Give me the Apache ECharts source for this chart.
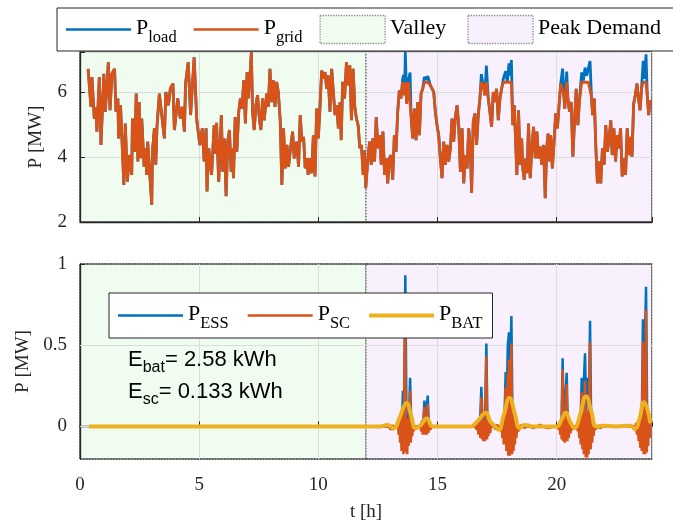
<!DOCTYPE html>
<html>
<head>
<meta charset="utf-8">
<script src="https://cdn.jsdelivr.net/npm/echarts@6/dist/echarts.min.js"></script>
<style>
  html, body { margin: 0; padding: 0; background: #fff; }
  #main { width: 673px; height: 529px; }
</style>
</head>
<body>
<div id="main"></div>
<script>
// time [h] of the load samples (top plot)
var loadT = [
  0.34,0.46,0.50,0.60,0.67,0.71,0.81,0.88,1.00,1.06,
  1.19,1.26,1.34,1.45,1.51,1.59,1.62,1.70,1.84,1.90,
  1.99,2.06,2.17,2.20,2.29,2.36,2.43,2.48,2.55,2.59,
  2.69,2.77,2.80,2.84,3.01,3.04,3.12,3.18,3.23,3.33,
  3.43,3.54,3.60,3.71,3.79,3.90,3.96,4.10,4.21,4.29,
  4.38,4.43,4.54,4.64,4.79,4.90,5.03,5.13,5.21,5.29,
  5.33,5.40,5.52,5.63,5.68,5.73,5.82,5.93,5.99,6.06,
  6.13,6.20,6.27,6.34,6.38,6.44,6.51,6.58,6.66,6.73,
  6.80,6.87,6.94,7.01,7.06,7.15,7.19,7.24,7.31,7.38,
  7.45,7.52,7.59,7.66,7.73,7.83,7.90,7.97,8.04,8.11,
  8.18,8.25,8.32,8.40,8.47,8.54,8.61,8.68,8.75,8.85,
  8.92,8.99,9.10,9.17,9.24,9.31,9.38,9.45,9.52,9.57,
  9.64,9.72,9.79,9.86,9.93,10.00,10.07,10.14,10.21,10.28,
  10.35,10.41,10.49,10.56,10.63,10.70,10.77,10.84,10.91,10.96,
  11.02,11.10,11.18,11.25,11.32,11.39,11.46,11.53,11.60,11.67,
  11.74,11.81,11.88,11.93,11.99,12.08,12.15,12.22,12.29,12.36,
  12.43,12.50,12.57,12.64,12.71,12.78,12.85,12.91,12.98,13.05,
  13.12,13.19,13.26,13.33,13.40,13.47,13.54,13.58,13.62,13.65,
  13.71,13.78,13.85,13.89,13.96,14.03,14.10,14.17,14.24,14.31,
  14.38,14.45,14.53,14.59,14.65,14.70,14.77,14.84,14.91,14.98,
  15.05,15.12,15.19,15.26,15.33,15.40,15.47,15.54,15.61,15.68,
  15.75,15.82,15.89,15.96,16.03,16.10,16.17,16.24,16.31,16.38,
  16.43,16.50,16.57,16.64,16.71,16.78,16.84,16.92,16.99,17.05,
  17.13,17.20,17.27,17.34,17.41,17.48,17.55,17.62,17.69,17.76,
  17.86,17.93,18.00,18.05,18.10,18.16,18.22,18.29,18.33,18.40,
  18.47,18.53,18.58,18.64,18.71,18.76,18.82,18.89,18.96,19.03,
  19.10,19.17,19.24,19.31,19.38,19.45,19.52,19.58,19.64,19.70,
  19.75,19.82,19.89,19.96,20.03,20.10,20.17,20.25,20.30,20.34,
  20.42,20.47,20.54,20.61,20.68,20.75,20.82,20.89,20.95,21.05,
  21.12,21.19,21.26,21.33,21.40,21.46,21.51,21.58,21.64,21.71,
  21.78,21.85,21.92,21.99,22.06,22.13,22.20,22.27,22.33,22.40,
  22.47,22.54,22.61,22.68,22.75,22.82,22.89,22.96,23.02,23.09,
  23.16,23.23,23.30,23.37,23.43,23.50,23.56,23.63,23.68,23.75,
  23.80,23.86,23.93
];
// P_load [MW]
var loadV = [
  6.71,5.54,6.46,5.18,5.54,4.78,6.46,4.37,6.56,5.39,
  6.92,5.44,6.56,6.71,5.39,5.80,4.57,5.59,3.14,5.03,
  3.24,4.06,3.45,5.18,4.16,5.95,3.86,5.69,3.96,5.18,
  3.70,4.27,3.45,4.47,2.53,4.16,4.88,3.76,4.93,5.95,
  5.29,4.57,6.00,5.59,6.10,6.26,4.83,5.80,5.18,5.54,
  4.78,6.26,6.92,5.29,7.07,5.13,4.37,4.88,3.86,4.88,
  2.94,4.27,3.45,4.98,4.10,5.05,3.24,5.29,3.55,4.57,
  2.79,4.47,4.83,3.55,4.27,3.35,5.23,4.16,5.39,5.80,
  5.49,6.36,5.03,6.61,5.80,6.71,7.22,5.39,4.83,5.59,
  5.90,5.23,4.83,5.80,5.13,5.95,5.54,6.71,5.69,6.36,
  5.54,6.31,6.00,5.13,3.14,4.88,3.65,4.37,3.70,4.37,
  4.78,3.96,4.47,3.70,5.29,4.47,4.62,3.65,3.96,3.45,
  3.96,3.50,4.67,3.40,5.49,4.57,5.54,6.66,6.41,6.61,
  6.10,6.51,5.39,6.71,6.00,5.29,5.59,4.88,5.69,4.52,
  6.31,5.80,6.92,6.20,6.82,5.13,6.71,5.54,5.18,4.98,
  4.27,4.37,3.45,4.20,3.04,3.96,4.47,3.76,4.57,3.86,
  5.23,4.27,4.67,3.76,4.78,3.45,3.96,3.19,3.96,4.06,
  3.30,4.67,4.16,5.39,6.05,5.80,6.41,6.53,5.90,7.23,
  5.64,6.35,6.60,5.29,4.57,5.49,4.52,5.69,4.67,5.95,
  6.10,6.46,6.38,6.49,6.34,6.20,6.26,6.00,5.39,4.98,
  4.67,3.96,3.35,4.47,3.76,4.37,3.86,4.27,5.18,4.47,
  5.23,5.59,4.98,3.55,4.88,3.19,4.06,3.65,4.88,4.27,
  2.89,5.08,5.34,4.37,5.29,5.80,6.55,6.20,5.90,6.81,
  5.80,5.39,4.93,6.00,5.69,6.10,5.13,5.80,6.10,6.40,
  6.64,6.30,6.88,6.50,6.98,4.98,5.59,4.27,3.45,5.44,
  3.76,4.57,3.65,3.30,3.96,3.50,5.03,3.35,4.27,4.93,
  3.96,4.78,3.96,4.32,3.76,4.37,2.73,4.27,4.72,3.86,
  4.67,3.65,4.47,5.34,4.88,5.59,6.26,6.72,5.90,5.49,
  6.63,5.80,5.39,5.69,4.01,5.13,6.10,4.98,5.69,6.60,
  6.35,6.75,6.50,6.55,6.95,5.85,5.29,5.80,4.37,3.19,
  3.86,3.19,4.27,3.76,4.98,4.16,4.57,5.13,4.06,4.88,
  3.86,4.67,4.27,4.88,3.40,3.96,3.45,4.88,4.06,4.62,
  4.01,5.64,5.90,6.26,5.80,5.44,6.10,6.96,6.40,7.16,
  5.90,5.29,5.75
];
// P_grid [MW] (peak shaved in the afternoon)
var gridV = [
  6.71,5.54,6.46,5.18,5.54,4.78,6.46,4.37,6.56,5.39,
  6.92,5.44,6.56,6.71,5.39,5.80,4.57,5.59,3.14,5.03,
  3.24,4.06,3.45,5.18,4.16,5.95,3.86,5.69,3.96,5.18,
  3.70,4.27,3.45,4.47,2.53,4.16,4.88,3.76,4.93,5.95,
  5.29,4.57,6.00,5.59,6.10,6.26,4.83,5.80,5.18,5.54,
  4.78,6.26,6.92,5.29,7.07,5.13,4.37,4.88,3.86,4.88,
  2.94,4.27,3.45,4.98,4.10,5.05,3.24,5.29,3.55,4.57,
  2.79,4.47,4.83,3.55,4.27,3.35,5.23,4.16,5.39,5.80,
  5.49,6.36,5.03,6.61,5.80,6.71,7.22,5.39,4.83,5.59,
  5.90,5.23,4.83,5.80,5.13,5.95,5.54,6.71,5.69,6.36,
  5.54,6.31,6.00,5.13,3.14,4.88,3.65,4.37,3.70,4.37,
  4.78,3.96,4.47,3.70,5.29,4.47,4.62,3.65,3.96,3.45,
  3.96,3.50,4.67,3.40,5.49,4.57,5.54,6.66,6.41,6.61,
  6.10,6.51,5.39,6.71,6.00,5.29,5.59,4.88,5.69,4.52,
  6.31,5.80,6.92,6.20,6.82,5.13,6.71,5.54,5.18,4.98,
  4.27,4.37,3.45,4.20,3.04,3.96,4.47,3.76,4.57,3.86,
  5.23,4.27,4.67,3.76,4.78,3.45,3.96,3.19,3.96,4.06,
  3.30,4.67,4.16,5.39,6.05,5.80,6.30,6.30,5.90,6.30,
  5.64,6.30,6.30,5.29,4.57,5.49,4.52,5.69,4.67,5.95,
  6.10,6.30,6.30,6.30,6.30,6.20,6.26,6.00,5.39,4.98,
  4.67,3.96,3.35,4.47,3.76,4.37,3.86,4.27,5.18,4.47,
  5.23,5.59,4.98,3.55,4.88,3.19,4.06,3.65,4.88,4.27,
  2.89,5.08,5.34,4.37,5.29,5.80,6.30,6.20,5.90,6.30,
  5.80,5.39,4.93,6.00,5.69,6.10,5.13,5.80,6.10,6.30,
  6.30,6.30,6.30,6.30,6.30,4.98,5.59,4.27,3.45,5.44,
  3.76,4.57,3.65,3.30,3.96,3.50,5.03,3.35,4.27,4.93,
  3.96,4.78,3.96,4.32,3.76,4.37,2.73,4.27,4.72,3.86,
  4.67,3.65,4.47,5.34,4.88,5.59,6.26,6.30,5.90,5.49,
  6.30,5.80,5.39,5.69,4.01,5.13,6.10,4.98,5.69,6.30,
  6.30,6.30,6.30,6.30,6.30,5.85,5.29,5.80,4.37,3.19,
  3.86,3.19,4.27,3.76,4.98,4.16,4.57,5.13,4.06,4.88,
  3.86,4.67,4.27,4.88,3.40,3.96,3.45,4.88,4.06,4.62,
  4.01,5.64,5.90,6.26,5.80,5.44,6.10,6.30,6.30,6.30,
  5.90,5.29,5.75
];

// bottom plot, [t, P] pairs in MW
var essPts = [
  [0.38,0],[13.50,0],[13.55,0.22],[13.59,0.02],[13.65,0.93],[13.70,0.03],[13.80,0.05],[13.85,0.30],[13.90,0],
  [14.40,0],[14.45,0.16],[14.51,0.05],[14.59,0.19],[14.64,0],
  [16.78,0],[16.84,0.245],[16.90,0],[16.99,0],[17.05,0.51],[17.10,0],
  [17.80,0],[17.86,0.335],[17.90,0.10],[17.95,0.50],[18.00,0.58],[18.04,0.30],[18.10,0.68],[18.15,0],
  [20.20,0],[20.25,0.42],[20.30,0],[20.37,0],[20.42,0.33],[20.47,0],
  [21.00,0],[21.05,0.30],[21.10,0.10],[21.16,0.35],[21.19,0.45],[21.24,0.10],[21.30,0.30],[21.36,0.20],[21.40,0.65],[21.45,0],
  [23.57,0],[23.62,0.66],[23.67,0.30],[23.75,0.86],[23.80,0],[23.93,0]
];
var scPts = [
  [0.38,0],
  [12.95,0],[13.00,0.01],[13.05,-0.02],[13.10,0.01],[13.15,-0.02],[13.20,0],
  [13.30,0],[13.34,0.02],[13.37,-0.05],[13.40,0.03],[13.43,-0.10],[13.46,0.04],[13.49,-0.15],[13.52,0.05],[13.55,0.12],
  [13.57,-0.17],[13.60,0.03],[13.64,0.79],[13.67,-0.16],[13.70,0.04],[13.73,-0.17],[13.76,0.05],[13.79,-0.12],[13.85,0.22],
  [13.88,-0.10],[13.91,0.03],[13.94,-0.06],[13.97,0.02],[14.00,-0.03],[14.04,0],
  [14.28,0],[14.32,-0.03],[14.35,0.04],[14.38,-0.05],[14.42,0.05],[14.45,0.12],[14.48,-0.05],[14.52,0.06],[14.55,-0.05],
  [14.59,0.14],[14.62,-0.04],[14.66,0.03],[14.70,-0.02],[14.75,0],
  [16.60,0],[16.64,-0.02],[16.68,0.02],[16.72,-0.05],[16.76,0.03],[16.80,-0.07],[16.84,0.18],[16.87,-0.08],[16.90,0.03],
  [16.93,-0.09],[16.96,0.04],[16.99,-0.09],[17.05,0.43],[17.08,-0.08],[17.11,0.03],[17.14,-0.06],[17.17,0.02],[17.21,-0.04],
  [17.25,0.01],[17.30,0],[17.38,0.01],[17.42,-0.02],[17.46,0.01],[17.50,0],
  [17.62,0],[17.66,-0.03],[17.69,0.03],[17.72,-0.07],[17.75,0.04],[17.78,-0.11],[17.82,0.05],[17.86,0.24],[17.89,-0.15],
  [17.92,0.08],[17.95,0.33],[17.97,-0.18],[18.00,0.41],[18.03,-0.18],[18.06,0.12],[18.10,0.51],[18.13,-0.17],[18.16,0.06],
  [18.19,-0.15],[18.22,0.04],[18.25,-0.11],[18.28,0.03],[18.31,-0.07],[18.35,0.02],[18.39,-0.03],[18.44,0],
  [18.55,0.01],[18.65,-0.01],[18.80,0.01],[19.00,-0.01],[19.30,0.01],[19.60,-0.01],[19.90,0],
  [20.05,0],[20.09,-0.02],[20.12,0.02],[20.15,-0.05],[20.18,0.03],[20.21,-0.08],[20.25,0.35],[20.28,-0.09],[20.31,0.03],
  [20.34,-0.10],[20.37,0.04],[20.42,0.26],[20.45,-0.09],[20.48,0.03],[20.51,-0.07],[20.54,0.02],[20.58,-0.04],[20.62,0.01],
  [20.67,-0.02],[20.72,0],
  [20.85,0],[20.89,-0.03],[20.92,0.03],[20.95,-0.07],[20.98,0.04],[21.01,-0.11],[21.05,0.21],[21.08,-0.14],[21.11,0.06],
  [21.14,-0.17],[21.19,0.28],[21.22,-0.19],[21.25,0.08],[21.28,-0.19],[21.31,0.10],[21.34,-0.17],[21.40,0.52],[21.43,-0.14],
  [21.46,0.05],[21.49,-0.10],[21.52,0.03],[21.55,-0.06],[21.59,0.02],[21.63,-0.02],[21.68,0],
  [21.75,0.01],[21.85,-0.01],[21.95,0.01],[22.10,0],
  [23.25,0],[23.29,-0.02],[23.33,0.02],[23.37,-0.05],[23.40,0.03],[23.44,-0.09],[23.47,0.04],[23.51,-0.13],[23.54,0.05],
  [23.57,-0.15],[23.62,0.52],[23.65,-0.17],[23.68,0.08],[23.71,-0.17],[23.75,0.72],[23.78,-0.16],[23.81,0.06],[23.84,-0.12],
  [23.87,0.04],[23.90,-0.07],[23.93,0.02]
];
var batPts = [
  [0.38,0],[12.0,0],[12.6,0],[12.9,0.01],[13.15,-0.01],[13.40,0.05],[13.55,0.11],[13.70,0.145],[13.89,0.07],
  [14.08,-0.01],[14.30,0.01],[14.55,0.05],[14.80,0],[15.1,0],[16.4,0],[16.6,0.02],[16.78,0.05],[17.02,0.085],
  [17.22,0.03],[17.42,0],[17.56,-0.02],[17.78,0.07],[18.02,0.175],[18.26,0.07],[18.45,-0.01],[18.65,0.01],
  [19.0,0],[20.0,0],[20.2,0.04],[20.38,0.085],[20.56,0.03],[20.75,-0.01],[20.98,0.07],[21.23,0.185],[21.46,0.09],
  [21.66,0],[21.9,0.005],[22.5,0],[23.1,0.005],[23.27,-0.015],[23.48,0.05],[23.66,0.15],[23.80,0.11],[23.93,0.02]
];

var xTicks = [0, 5, 10, 15, 20];
var topTicks = [2, 4, 6];
var botTicks = [0, 0.5, 1];
var valleyEnd = 12;
var dayEnd = 24;

var serif = "'Liberation Serif', 'DejaVu Serif', serif";
var sans = "'Liberation Sans', Arial, sans-serif";
var ink = '#262626';
var cBlue = '#0072BD', cRed = '#D95319', cYel = '#EDB120';
var cValley = '#F1FCF0', cPeak = '#F8F1FD';
var gridGray = '#dcdcdc';
// thin bar used as legend line icon
var lineIcon = 'path://M0 0H65V2.6H0Z';
var thickIcon = 'path://M0 0H65V4.2H0Z';

function zip(t, v) {
    var out = [];
    var n = Math.min(t.length, v.length);
    for (var i = 0; i < n; i++) out.push([t[i], v[i]]);
    return out;
}

// legend text: P with subscript
var subs = { 'P_load': 'load', 'P_grid': 'grid', 'P_ESS': 'ESS', 'P_SC': 'SC', 'P_BAT': 'BAT' };
var legendRich = {
    p: { fontSize: 22, lineHeight: 24, verticalAlign: 'top', fontFamily: serif, color: '#000' },
    s: { fontSize: 16.5, lineHeight: 17, padding: [16, 0, 0, 0], fontFamily: serif, color: '#000' }
};
function legendFmt(name) {
    if (subs[name]) return '{p|P}{s|' + subs[name] + '}';
    return '{p|' + name + '}{s| }';
}

function xAxisCfg(idx, withLabels) {
    return {
        type: 'value', gridIndex: idx, min: 0, max: dayEnd, interval: 5,
        name: withLabels ? 't [h]' : '', nameLocation: 'middle', nameGap: 44,
        nameTextStyle: { fontFamily: serif, fontSize: 19, color: ink },
        axisLine: { lineStyle: { color: ink, width: 1.3 } },
        axisTick: { inside: true, length: 5, lineStyle: { color: ink } },
        axisLabel: {
            show: withLabels, margin: 17, fontFamily: serif, fontSize: 19, color: ink,
            formatter: function (v) { return xTicks.indexOf(v) >= 0 ? String(v) : ''; }
        },
        splitLine: { show: true, lineStyle: { color: gridGray, width: 1 } }
    };
}

var chart = echarts.init(document.getElementById('main'));

var option = {
    animation: false,
    grid: [
        { left: 80, top: 52, width: 572, height: 170, show: true, borderColor: ink, borderWidth: 1, backgroundColor: 'transparent' },
        { left: 80, top: 264, width: 572, height: 195, show: true, borderColor: ink, borderWidth: 1, backgroundColor: 'transparent' }
    ],
    xAxis: [xAxisCfg(0, false), xAxisCfg(1, true)],
    yAxis: [
        {
            type: 'value', gridIndex: 0, min: 2, max: 7.23, interval: 2,
            name: 'P [MW]', nameLocation: 'middle', nameGap: 34,
            nameTextStyle: { fontFamily: serif, fontSize: 19, color: ink },
            axisLine: { show: true, lineStyle: { color: ink, width: 1.3 } },
            axisTick: { inside: true, length: 5, lineStyle: { color: ink } },
            axisLabel: {
                margin: 13, fontFamily: serif, fontSize: 19, color: ink,
                formatter: function (v) { return topTicks.indexOf(v) >= 0 ? String(v) : ''; }
            },
            splitLine: { show: true, lineStyle: { color: gridGray, width: 1 } }
        },
        {
            type: 'value', gridIndex: 1, min: -0.2, max: 1,
            name: 'P [MW]', nameLocation: 'middle', nameGap: 34,
            nameTextStyle: { fontFamily: serif, fontSize: 19, color: ink },
            axisLine: { show: true, lineStyle: { color: ink, width: 1.3 } },
            axisTick: { inside: true, length: 5, lineStyle: { color: ink }, customValues: botTicks },
            axisLabel: {
                margin: 13, fontFamily: serif, fontSize: 19, color: ink, customValues: botTicks,
                formatter: function (v) { return String(v); }
            },
            splitLine: { show: false }
        }
    ],
    legend: [
        {
            left: 57, top: 8, width: 640, orient: 'horizontal',
            padding: [5, 12, 5, 9], itemGap: 17, itemWidth: 65, itemHeight: 28,
            backgroundColor: '#fff', borderColor: ink, borderWidth: 1, borderRadius: 0,
            selectedMode: false, symbolKeepAspect: true,
            formatter: legendFmt,
            textStyle: { rich: legendRich },
            data: [
                { name: 'P_load', icon: lineIcon, itemStyle: { color: cBlue } },
                { name: 'P_grid', icon: lineIcon, itemStyle: { color: cRed } },
                { name: 'Valley', icon: 'rect', itemStyle: { color: cValley, borderColor: '#888', borderType: 'dotted', borderWidth: 1.3 } },
                { name: 'Peak Demand', icon: 'rect', itemStyle: { color: cPeak, borderColor: '#888', borderType: 'dotted', borderWidth: 1.3 } }
            ]
        },
        {
            left: 109, top: 293, orient: 'horizontal',
            padding: [6, 10, 6, 9], itemGap: 19, itemWidth: 65, itemHeight: 14,
            backgroundColor: '#fff', borderColor: ink, borderWidth: 1, borderRadius: 0,
            selectedMode: false, z: 10, symbolKeepAspect: true,
            formatter: legendFmt,
            textStyle: { rich: legendRich },
            data: [
                { name: 'P_ESS', icon: lineIcon, itemStyle: { color: cBlue } },
                { name: 'P_SC', icon: lineIcon, itemStyle: { color: cRed } },
                { name: 'P_BAT', icon: thickIcon, itemStyle: { color: cYel } }
            ]
        }
    ],
    graphic: [
        {
            type: 'text', left: 128, top: 346, z: 20,
            style: {
                text: '{e|E}{s|bat}{e|= 2.58 kWh}',
                rich: {
                    e: { fontSize: 22, lineHeight: 24, verticalAlign: 'top', fontFamily: sans, fill: '#000' },
                    s: { fontSize: 16, lineHeight: 17, padding: [14, 0, 0, 0], fontFamily: sans, fill: '#000' }
                }
            }
        },
        {
            type: 'text', left: 128, top: 378, z: 20,
            style: {
                text: '{e|E}{s|sc}{e|= 0.133 kWh}',
                rich: {
                    e: { fontSize: 22, lineHeight: 24, verticalAlign: 'top', fontFamily: sans, fill: '#000' },
                    s: { fontSize: 16, lineHeight: 17, padding: [14, 0, 0, 0], fontFamily: sans, fill: '#000' }
                }
            }
        }
    ],
    series: [
        // shaded periods, top plot
        {
            name: 'Valley', type: 'line', xAxisIndex: 0, yAxisIndex: 0, data: [], z: -1, color: cValley,
            markArea: {
                silent: true, z: -1,
                itemStyle: { color: cValley, borderColor: '#777', borderType: 'dotted', borderWidth: 1.5 },
                data: [[{ xAxis: 0 }, { xAxis: valleyEnd }]]
            }
        },
        {
            name: 'Peak Demand', type: 'line', xAxisIndex: 0, yAxisIndex: 0, data: [], z: -1, color: cPeak,
            markArea: {
                silent: true, z: -1,
                itemStyle: { color: cPeak, borderColor: '#777', borderType: 'dotted', borderWidth: 1.5 },
                data: [[{ xAxis: valleyEnd }, { xAxis: dayEnd }]]
            }
        },
        // shaded periods + horizontal grid, bottom plot
        {
            name: 'valley2', type: 'line', xAxisIndex: 1, yAxisIndex: 1, data: [], z: -1,
            markArea: {
                silent: true, z: -1,
                itemStyle: { color: cValley, borderColor: '#777', borderType: 'dotted', borderWidth: 1.5 },
                data: [[{ xAxis: 0 }, { xAxis: valleyEnd }]]
            }
        },
        {
            name: 'peak2', type: 'line', xAxisIndex: 1, yAxisIndex: 1, data: [], z: -1,
            markArea: {
                silent: true, z: -1,
                itemStyle: { color: cPeak, borderColor: '#777', borderType: 'dotted', borderWidth: 1.5 },
                data: [[{ xAxis: valleyEnd }, { xAxis: dayEnd }]]
            },
            markLine: {
                silent: true, z: 1, symbol: ['none', 'none'], label: { show: false },
                lineStyle: { color: gridGray, width: 1, type: 'solid' },
                data: [{ yAxis: 0 }, { yAxis: 0.5 }]
            }
        },
        {
            name: 'P_load', type: 'line', xAxisIndex: 0, yAxisIndex: 0, z: 3,
            data: zip(loadT, loadV), symbol: 'none', color: cBlue,
            lineStyle: { width: 2.8, color: cBlue }
        },
        {
            name: 'P_grid', type: 'line', xAxisIndex: 0, yAxisIndex: 0, z: 4,
            data: zip(loadT, gridV), symbol: 'none', color: cRed,
            lineStyle: { width: 2.8, color: cRed }
        },
        {
            name: 'P_ESS', type: 'line', xAxisIndex: 1, yAxisIndex: 1, z: 3,
            data: essPts, symbol: 'none', color: cBlue,
            lineStyle: { width: 2.5, color: cBlue }
        },
        {
            name: 'P_SC', type: 'line', xAxisIndex: 1, yAxisIndex: 1, z: 4,
            data: scPts, symbol: 'none', color: cRed,
            lineStyle: { width: 2.5, color: cRed }
        },
        {
            name: 'P_BAT', type: 'line', xAxisIndex: 1, yAxisIndex: 1, z: 5,
            data: batPts, symbol: 'none', color: cYel, smooth: 0.5,
            lineStyle: { width: 4, color: cYel }
        }
    ]
};

chart.setOption(option);
</script>
</body>
</html>
